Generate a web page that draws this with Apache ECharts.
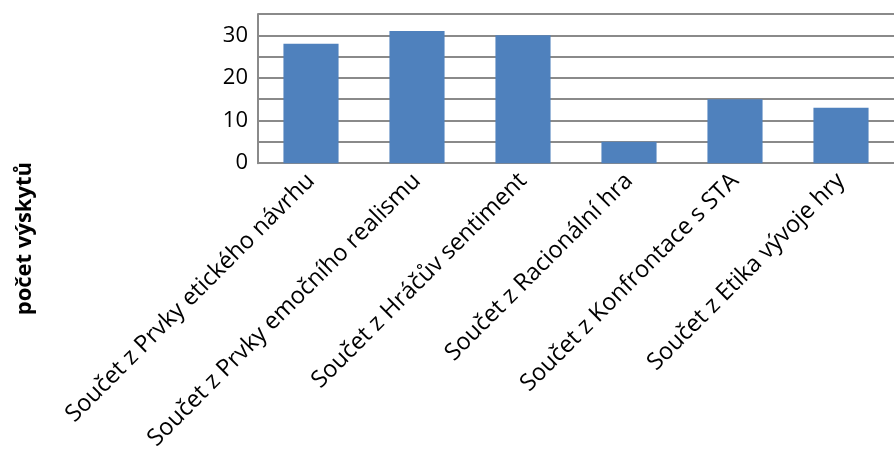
<!DOCTYPE html>
<html>
<head>
<meta charset="utf-8">
<script src="https://cdn.jsdelivr.net/npm/echarts@6/dist/echarts.min.js"></script>
<style>
  html, body { margin: 0; padding: 0; background: #fff; }
  #chart { width: 894px; height: 453px; }
</style>
</head>
<body>
<div id="chart"></div>
<script>
  const categories = [
    'Součet z Prvky etického návrhu',
    'Součet z Prvky emočního realismu',
    'Součet z Hráčův sentiment',
    'Součet z Racionální hra',
    'Součet z Konfrontace s STA',
    'Součet z Etika vývoje hry'
  ];
  const counts = [28, 31, 30, 5, 15, 13];
  const yLabels = [0, 10, 20, 30];
  const axisTitle = 'počet výskytů';

  const font = '"Open Sans", sans-serif';
  const chart = echarts.init(document.getElementById('chart'), null, { renderer: 'canvas' });

  chart.setOption({
    animation: false,
    textStyle: { fontFamily: font },
    grid: { left: 258, right: -12, top: 14, bottom: 288, containLabel: false },
    xAxis: {
      type: 'category',
      data: categories,
      axisLine: { lineStyle: { color: '#8a8a8a', width: 2 } },
      axisTick: { show: false },
      axisLabel: {
        rotate: 45,
        interval: 0,
        margin: 14,
        fontSize: 23.6,
        color: '#000',
        fontFamily: font
      }
    },
    yAxis: {
      type: 'value',
      min: 0,
      max: 35,
      interval: 5,
      axisLine: { show: true, lineStyle: { color: '#8a8a8a', width: 2 } },
      axisTick: { show: false },
      splitLine: { lineStyle: { color: '#8a8a8a', width: 2 } },
      axisLabel: {
        margin: 10,
        fontSize: 22,
        color: '#000',
        fontFamily: font,
        formatter: (v) => (yLabels.includes(v) ? String(v) : '')
      }
    },
    graphic: [{
      type: 'text',
      left: 14,
      top: 162,
      rotation: Math.PI / 2,
      style: {
        text: axisTitle,
        font: 'bold 22px ' + font,
        fill: '#000'
      }
    }],
    series: [{
      type: 'bar',
      data: counts,
      barCategoryGap: '48%',
      itemStyle: { color: '#4f81bd' }
    }]
  });
</script>
</body>
</html>
